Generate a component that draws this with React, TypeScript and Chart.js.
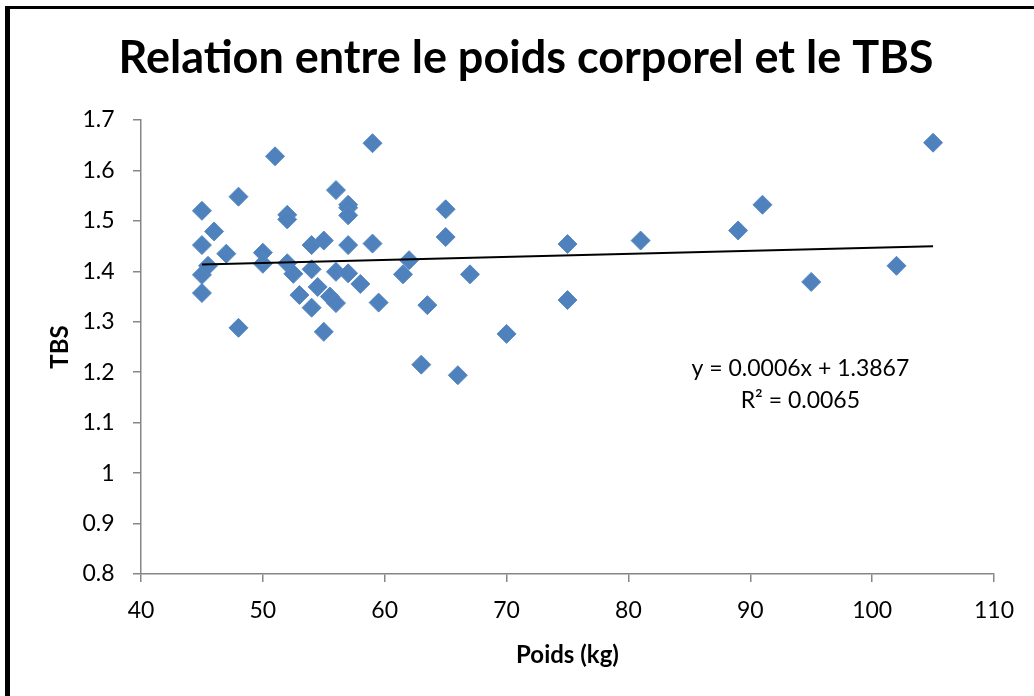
import React, { useEffect, useRef } from "react";
import { Chart, registerables } from "chart.js";

Chart.register(...registerables);

const chartTitle = "Relation entre le poids corporel et le TBS";
const xTitle = "Poids (kg)";
const yTitle = "TBS";

const poids: number[] = [
  45, 45, 45, 45, 45.5, 46, 47, 48, 48, 50, 50, 51, 52, 52, 52, 52.5, 53,
  54, 54, 54, 54.5, 55, 55, 55.5, 56, 56, 56, 57, 57, 57, 57, 57, 58, 59, 59,
  59.5, 61.5, 62, 63, 63.5, 65, 65, 66, 67, 70, 75, 75, 81, 89, 91, 95, 102, 105,
];
const tbs: number[] = [
  1.52, 1.452, 1.393, 1.357, 1.411, 1.479, 1.435, 1.548, 1.288, 1.437, 1.415,
  1.628, 1.512, 1.503, 1.416, 1.395, 1.353, 1.452, 1.404, 1.328, 1.369, 1.461,
  1.28, 1.35, 1.561, 1.399, 1.337, 1.532, 1.526, 1.511, 1.452, 1.396, 1.375,
  1.654, 1.455, 1.338, 1.394, 1.422, 1.215, 1.333, 1.523, 1.468, 1.194, 1.394,
  1.276, 1.454, 1.343, 1.461, 1.481, 1.532, 1.379, 1.411, 1.655,
];

const trendSlope = 0.0006;
const trendIntercept = 1.3867;
const trendRange: number[] = [45, 105];
const equationLines: string[] = ["y = 0.0006x + 1.3867", "R² = 0.0065"];

const xMin = 40, xMax = 110, xStep = 10;
const yMin = 0.8, yMax = 1.7, yStep = 0.1;

const FONT = "Lato, 'Open Sans', sans-serif";

export default function App() {
  const ref = useRef<HTMLCanvasElement | null>(null);

  useEffect(() => {
    if (!ref.current) return;
    const points = poids.map((x, i) => ({ x, y: tbs[i] }));
    const trend = trendRange.map((x) => ({ x, y: trendSlope * x + trendIntercept }));

    const equationPlugin = {
      id: "equation",
      afterDatasetsDraw(chart: any) {
        const { ctx, chartArea } = chart;
        const w = chartArea.right - chartArea.left;
        const h = chartArea.bottom - chartArea.top;
        const cx = chartArea.left + w * 0.773;
        const cy = chartArea.top + h * 0.547;
        ctx.save();
        ctx.fillStyle = "#000";
        ctx.font = `23px ${FONT}`;
        ctx.textAlign = "center";
        ctx.textBaseline = "middle";
        equationLines.forEach((t, i) => ctx.fillText(t, cx, cy + i * 32));
        ctx.restore();
      },
    };

    const chart = new Chart(ref.current, {
      type: "scatter",
      data: {
        datasets: [
          {
            data: trend,
            showLine: true,
            borderColor: "#000",
            borderWidth: 2,
            pointRadius: 0,
            order: 0,
          } as any,
          {
            data: points,
            pointStyle: "rectRot",
            pointRadius: 9.5,
            pointHoverRadius: 9.5,
            backgroundColor: "#4F81BD",
            borderColor: "#5688c2",
            borderWidth: 1,
            order: 1,
          } as any,
        ],
      },
      options: {
        responsive: false,
        animation: false,
        layout: { padding: { left: 58, right: 40, top: 0, bottom: 0 } },
        plugins: {
          legend: { display: false },
          tooltip: { enabled: false },
          title: {
            display: true,
            text: chartTitle,
            color: "#000",
            font: { family: FONT, size: 45, weight: "bold", lineHeight: 1.2 },
            padding: { top: 31, bottom: 35 },
          },
        },
        scales: {
          x: {
            type: "linear",
            min: xMin,
            max: xMax,
            ticks: {
              stepSize: xStep,
              color: "#000",
              font: { family: FONT, size: 23 },
              padding: 14.5,
              maxRotation: 0,
            },
            grid: {
              drawOnChartArea: false,
              drawTicks: true,
              tickLength: 8,
              color: "#868686",
              lineWidth: 1.5,
            },
            border: { color: "#868686", width: 1.5 },
            title: {
              display: true,
              text: xTitle,
              color: "#000",
              font: { family: FONT, size: 24, weight: "bold", lineHeight: 1.2 },
              padding: { top: 0, bottom: 26.6 },
            },
            afterFit(scale: any) {
              scale.height = 122;
            },
          },
          y: {
            type: "linear",
            min: yMin,
            max: yMax,
            ticks: {
              stepSize: yStep,
              color: "#000",
              font: { family: FONT, size: 23 },
              padding: 18.5,
              callback: (v: any) => String(Number(Number(v).toFixed(1))),
            },
            grid: {
              drawOnChartArea: false,
              drawTicks: true,
              tickLength: 8,
              color: "#868686",
              lineWidth: 1.5,
            },
            border: { color: "#868686", width: 1.5 },
            title: {
              display: true,
              text: yTitle,
              color: "#000",
              font: { family: FONT, size: 24, weight: "bold", lineHeight: 1.2 },
              padding: { top: -12.4, bottom: 0 },
            },
            afterFit(scale: any) {
              scale.width = 83;
            },
          },
        },
      } as any,
      plugins: [equationPlugin],
    });
    return () => chart.destroy();
  }, []);

  return (
    <div style={{ position: "fixed", left: 0, top: 0, width: 1034, height: 696, background: "#fff" }}>
      <canvas ref={ref} width={1034} height={696} style={{ position: "absolute", left: 0, top: 0 }} />
      <div
        style={{
          position: "absolute",
          left: 5,
          top: 6,
          width: 1100,
          height: 800,
          borderLeft: "5px solid #000",
          borderTop: "3px solid #000",
          pointerEvents: "none",
        }}
      />
    </div>
  );
}
